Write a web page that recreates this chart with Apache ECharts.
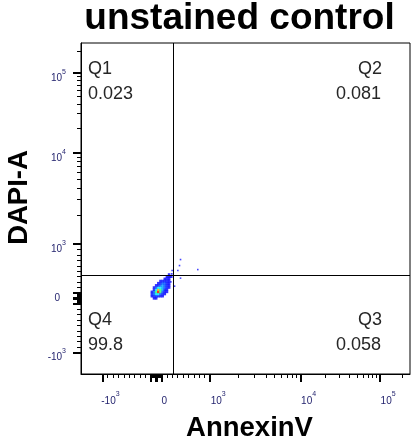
<!DOCTYPE html>
<html>
<head>
<meta charset="utf-8">
<title>unstained control</title>
<script src="https://cdn.jsdelivr.net/npm/echarts@6/dist/echarts.min.js"></script>
<style>
  html, body { margin: 0; padding: 0; background: #fff; }
  #chart { width: 411px; height: 448px; }
</style>
</head>
<body>
<div id="chart"></div>
<script>
// ---- data (fluorescence units) ----
const axisRange = [-1680, 262144];

// density bins of the main population
const binX = [-120, -80, -40, 0, 40, 80, 120, 160, 200, 240, 280, 320];
const binY = [0, 40, 80, 120, 160, 200, 240, 280, 320, 360, 400, 440];
// one row per binY entry, one value per binX entry (relative event density)
const densityRows = [
  [0, 0, 1, 1, 0, 0, 0, 0, 0, 0, 0, 0],
  [0, 1, 2, 2, 2, 1, 1, 0, 0, 0, 0, 0],
  [0, 2, 3, 5, 5, 3, 2, 1, 0, 0, 0, 0],
  [0, 1, 3, 6, 9, 6, 3, 1, 1, 0, 0, 0],
  [0, 0, 2, 5, 8, 6, 4, 2, 1, 0, 0, 0],
  [0, 0, 1, 3, 5, 5, 4, 3, 2, 1, 0, 0],
  [0, 0, 0, 1, 2, 3, 4, 3, 2, 1, 0, 0],
  [0, 0, 0, 0, 1, 2, 3, 3, 2, 1, 0, 0],
  [0, 0, 0, 0, 0, 1, 2, 2, 2, 1, 0, 0],
  [0, 0, 0, 0, 0, 0, 0, 1, 2, 1, 0, 0],
  [0, 0, 0, 0, 0, 0, 0, 0, 1, 1, 1, 0],
  [0, 0, 0, 0, 0, 0, 0, 0, 0, 1, 0, 0]
];

// isolated events outside the main population
const eventX = [452, 433, 402, 772, 452, 296, 341, 272, 248, 290];
const eventY = [716, 605, 513, 531, 373, 513, 225, 304, 402, 452];

// quadrant gate
const gateX = 320;
const gateY = 425;
const quadrants = [
  { name: 'Q1', value: '0.023' },
  { name: 'Q2', value: '0.081' },
  { name: 'Q3', value: '0.058' },
  { name: 'Q4', value: '99.8' }
];

// axis ticks
const majorTicks = [-1000, -100, -10, 0, 10, 100, 1000, 10000, 100000];
const labelTicks = [-1000, 0, 1000, 10000, 100000];
const labelExp = ['-10|3', '0', '10|3', '10|4', '10|5'];
const minorTicks = [
  -900, -800, -700, -600, -500, -400, -300, -200,
  -90, -80, -70, -60, -50, -40, -30, -20,
  20, 30, 40, 50, 60, 70, 80, 90,
  200, 300, 400, 500, 600, 700, 800, 900,
  2000, 3000, 4000, 5000, 6000, 7000, 8000, 9000,
  20000, 30000, 40000, 50000, 60000, 70000, 80000, 90000,
  200000
];

// ---- biexponential-style display scale: linear within ±1000, log-like beyond ----
const LIN = 1000, LA = 1.779, LB = -0.101;
function biex(v) {
  const a = Math.abs(v);
  if (a <= LIN) return v / LIN;
  const u = Math.log10(a / LIN);
  return Math.sign(v) * (1 + LA * u + LB * u * u);
}

const FONT = "'Liberation Sans', Arial, sans-serif";
const TICK_COLOR = '#1f1f6b';

const densityData = [];
densityRows.forEach((row, j) => {
  row.forEach((d, i) => {
    if (d > 0) densityData.push([biex(binX[i]), biex(binY[j]), d]);
  });
});
const eventData = eventX.map((x, i) => [biex(x), biex(eventY[i])]);

// tick label as rich text: base "10" with a raised exponent
function labelText(value, axisDim) {
  let k = 0, best = Infinity;
  labelTicks.forEach((t, i) => {
    const d = Math.abs(biex(t) - value);
    if (d < best) { best = d; k = i; }
  });
  const parts = labelExp[k].split('|');
  if (parts.length === 1) {
    return axisDim === 'x' ? '{h| }{b|' + parts[0] + '}' : '{z|' + parts[0] + '}';
  }
  return '{h| }{b|' + parts[0] + '}{s|' + parts[1] + '}';
}

const richStyles = {
  h: { fontSize: 1, lineHeight: 20, verticalAlign: 'middle', color: 'rgba(0,0,0,0)', fontFamily: FONT },
  b: { fontSize: 10, lineHeight: 10, verticalAlign: 'bottom', color: TICK_COLOR, fontFamily: FONT },
  s: { fontSize: 7, lineHeight: 7, padding: [5, 0, 0, 0], verticalAlign: 'top', color: TICK_COLOR, fontFamily: FONT },
  z: { fontSize: 10, lineHeight: 10, padding: [0, 6, 0, 0], color: TICK_COLOR, fontFamily: FONT }
};

const lo = biex(axisRange[0]), hi = biex(axisRange[1]);

function majorAxis(dim) {
  return {
    type: 'value', min: lo, max: hi, gridIndex: 0,
    position: dim === 'x' ? 'bottom' : 'left',
    axisLine: { show: true, onZero: false, lineStyle: { color: '#000', width: 1 } },
    axisTick: {
      show: true, inside: false, length: 8,
      customValues: majorTicks.map(biex),
      lineStyle: { color: '#000', width: 2 }
    },
    axisLabel: {
      show: true,
      customValues: labelTicks.map(biex),
      margin: dim === 'x' ? 12 : 15,
      padding: dim === 'x' ? [0, 0, 0, 16] : 0,
      formatter: v => labelText(v, dim),
      rich: richStyles
    },
    splitLine: { show: false }
  };
}
function minorAxis(dim) {
  return {
    type: 'value', min: lo, max: hi, gridIndex: 0,
    position: dim === 'x' ? 'bottom' : 'left', offset: 0,
    axisLine: { show: false, onZero: false },
    axisTick: {
      show: true, inside: false, length: 4,
      customValues: minorTicks.map(biex),
      lineStyle: { color: '#000', width: 1 }
    },
    axisLabel: { show: false },
    splitLine: { show: false }
  };
}

const chart = echarts.init(document.getElementById('chart'), null, { renderer: 'canvas' });

const qText = (text, x, y, align) => ({
  type: 'text', x: x, y: y, silent: true,
  style: { text: text, font: '18px ' + FONT, fill: '#262626', align: align, verticalAlign: 'middle' }
});

chart.setOption({
  animation: false,
  backgroundColor: '#fff',
  grid: {
    left: 81, top: 43, width: 329, height: 331,
    show: true, borderColor: '#000', borderWidth: 1, backgroundColor: 'transparent'
  },
  xAxis: [majorAxis('x'), minorAxis('x')],
  yAxis: [majorAxis('y'), minorAxis('y')],
  visualMap: {
    show: false, type: 'continuous', seriesIndex: 0, dimension: 2, min: 1, max: 9,
    inRange: { color: ['#0000ff', '#0010ff', '#0050ff', '#00a0ff', '#00e8ff', '#30ff70', '#f0ff00', '#ffa000', '#ff0000'] }
  },
  series: [
    {
      type: 'scatter', xAxisIndex: 0, yAxisIndex: 0,
      symbol: 'rect', symbolSize: 2.6, silent: true,
      data: densityData
    },
    {
      type: 'scatter', xAxisIndex: 0, yAxisIndex: 0,
      symbol: 'rect', symbolSize: 1.6, silent: true,
      itemStyle: { color: '#1414ff' },
      data: eventData,
      markLine: {
        silent: true, symbol: ['none', 'none'], label: { show: false },
        lineStyle: { color: '#000', width: 1, type: 'solid' },
        emphasis: { disabled: true },
        data: [{ xAxis: biex(gateX) }, { yAxis: biex(gateY) }]
      }
    }
  ],
  graphic: [
    { type: 'text', x: 239.5, y: 19, silent: true,
      style: { text: 'unstained control', font: 'bold 37px ' + FONT, fill: '#000', align: 'center', verticalAlign: 'middle' } },
    { type: 'text', x: 249.5, y: 428.5, silent: true,
      style: { text: 'AnnexinV', font: 'bold 27.5px ' + FONT, fill: '#000', align: 'center', verticalAlign: 'middle' } },
    { type: 'text', x: 19, y: 197.5, rotation: Math.PI / 2, silent: true,
      style: { text: 'DAPI-A', font: 'bold 27.5px ' + FONT, fill: '#000', align: 'center', verticalAlign: 'middle' } },
    qText(quadrants[0].name, 88, 69, 'left'),
    qText(quadrants[0].value, 88, 94.5, 'left'),
    qText(quadrants[1].name, 382, 69, 'right'),
    qText(quadrants[1].value, 381, 94.5, 'right'),
    qText(quadrants[3].name, 88, 320.5, 'left'),
    qText(quadrants[3].value, 88, 345.5, 'left'),
    qText(quadrants[2].name, 382, 320.5, 'right'),
    qText(quadrants[2].value, 381, 345.5, 'right')
  ]
});
</script>
</body>
</html>
